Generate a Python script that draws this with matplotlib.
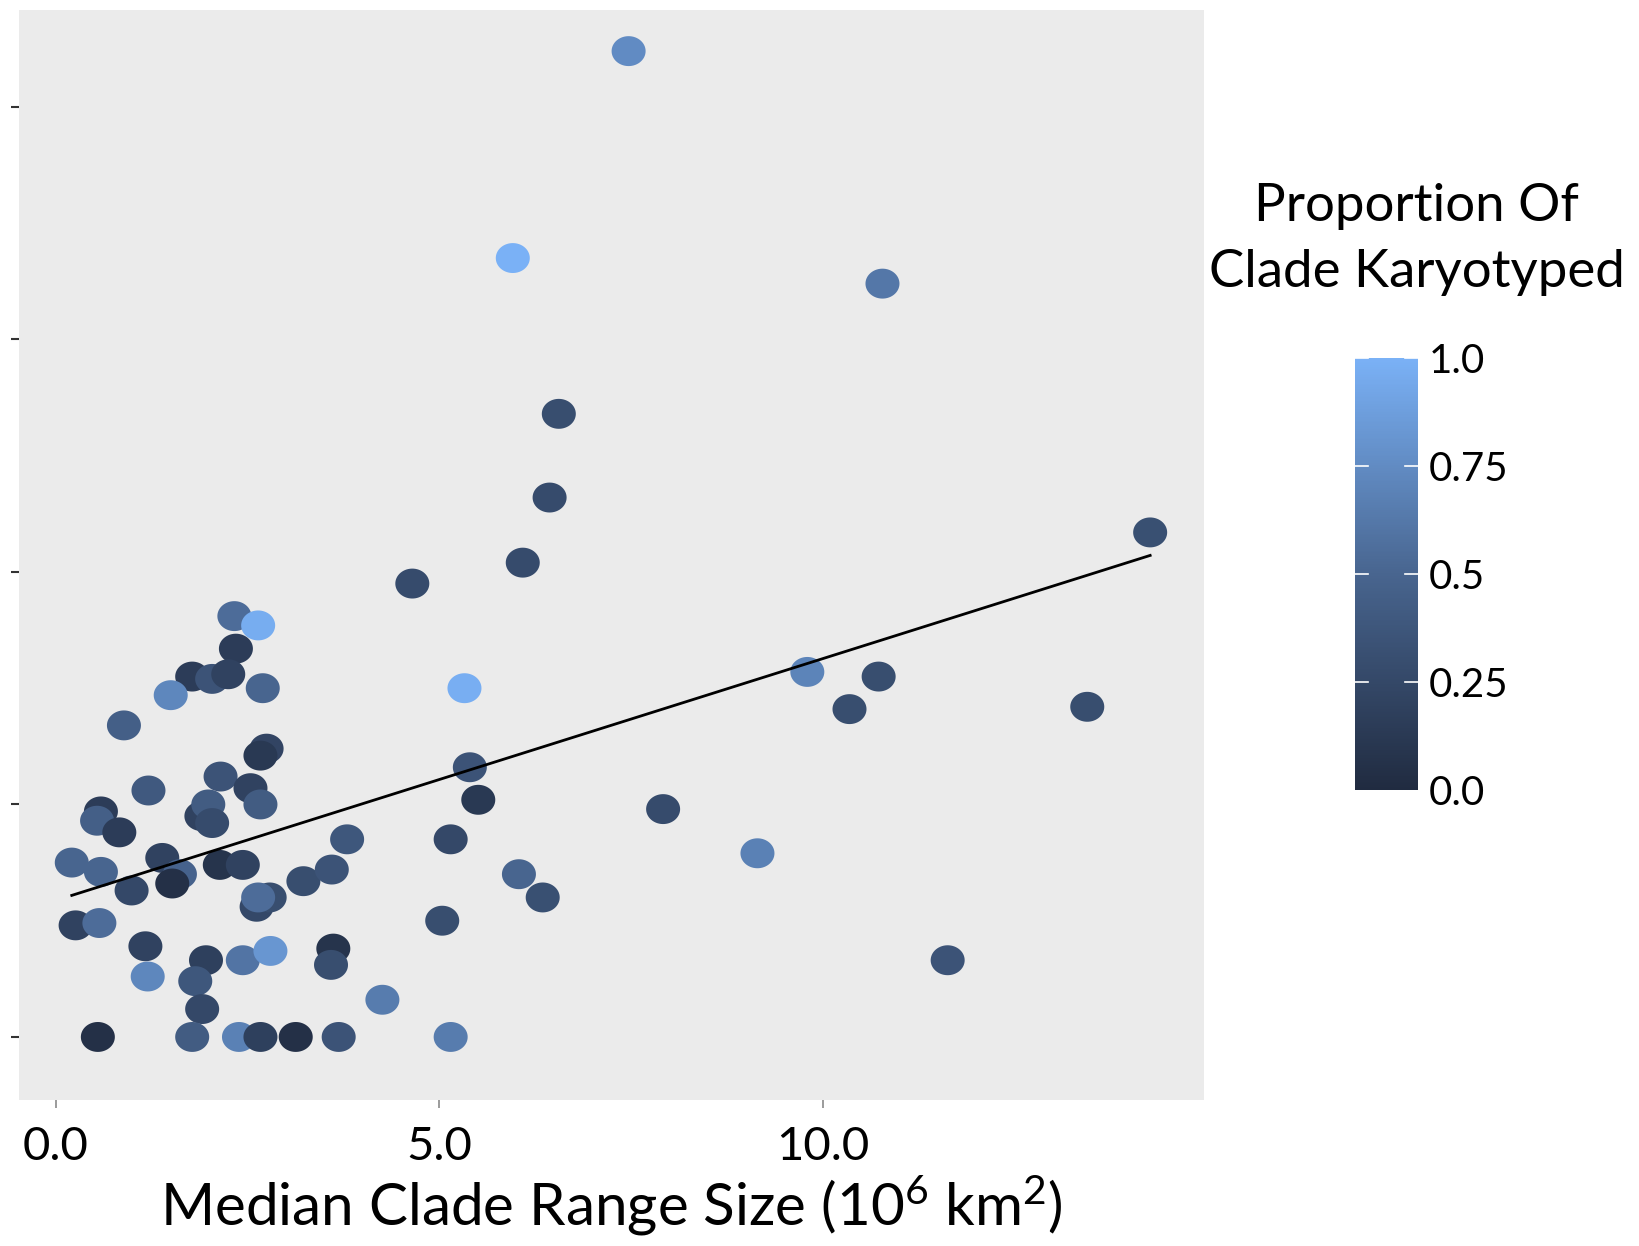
import numpy as np
import matplotlib
matplotlib.use("Agg")
from matplotlib import pyplot as plt
from matplotlib.colors import LinearSegmentedColormap, Normalize
from matplotlib.path import Path

plt.rcParams['font.family'] = ['Lato', 'DejaVu Sans']
plt.rcParams['mathtext.fontset'] = 'custom'
plt.rcParams['mathtext.rm'] = 'Lato'
plt.rcParams['mathtext.it'] = 'Lato'

# median clade range size (10^6 km^2)
range_size = [7.47, 5.96, 10.78, 6.56, 6.44, 6.09, 4.65, 14.27, 2.33, 2.64,
              2.35, 1.78, 2.04, 2.25, 1.50, 2.70, 5.33, 0.89, 9.80, 10.73,
              10.35, 13.45, 2.75, 2.67, 1.21, 2.15, 2.54, 2.67, 5.40, 5.51,
              7.92, 0.59, 0.54, 0.83, 1.90, 1.99, 2.04, 3.80, 5.15, 9.15,
              0.21, 0.59, 1.39, 1.62, 1.52, 0.99, 2.14, 2.44, 3.23, 3.60,
              6.04, 6.35, 2.62, 2.79, 2.64, 0.26, 0.57, 5.04, 11.63, 1.17,
              1.96, 2.44, 2.80, 3.62, 3.59, 1.20, 1.82, 1.91, 4.26, 0.55,
              1.78, 2.39, 2.67, 3.13, 3.69, 5.15]

# response on the y axis (no tick labels printed)
response = [4.24, 3.35, 3.24, 2.68, 2.32, 2.04, 1.95, 2.17, 1.81, 1.77,
            1.67, 1.55, 1.54, 1.56, 1.47, 1.50, 1.50, 1.34, 1.57, 1.55,
            1.41, 1.42, 1.24, 1.21, 1.06, 1.12, 1.07, 1.00, 1.16, 1.02,
            0.98, 0.97, 0.93, 0.88, 0.95, 1.00, 0.92, 0.85, 0.85, 0.79,
            0.75, 0.71, 0.77, 0.70, 0.66, 0.63, 0.74, 0.74, 0.67, 0.72,
            0.70, 0.60, 0.56, 0.60, 0.60, 0.48, 0.49, 0.50, 0.33, 0.39,
            0.33, 0.33, 0.37, 0.38, 0.31, 0.26, 0.24, 0.12, 0.16, 0.00,
            0.00, 0.00, 0.00, 0.00, 0.00, 0.00]

# proportion of clade karyotyped
prop_karyotyped = [0.75, 1.00, 0.62, 0.30, 0.28, 0.28, 0.28, 0.32, 0.55, 0.97,
                   0.15, 0.15, 0.35, 0.20, 0.72, 0.50, 0.98, 0.45, 0.70, 0.30,
                   0.30, 0.30, 0.22, 0.12, 0.40, 0.35, 0.20, 0.42, 0.35, 0.12,
                   0.28, 0.15, 0.45, 0.15, 0.20, 0.42, 0.28, 0.38, 0.25, 0.68,
                   0.50, 0.50, 0.20, 0.48, 0.05, 0.25, 0.08, 0.20, 0.30, 0.35,
                   0.50, 0.32, 0.25, 0.30, 0.55, 0.20, 0.55, 0.30, 0.35, 0.20,
                   0.18, 0.60, 0.82, 0.08, 0.30, 0.72, 0.38, 0.25, 0.65, 0.05,
                   0.42, 0.68, 0.18, 0.05, 0.35, 0.65]

# linear fit
fit_intercept = 0.587
fit_slope = 0.104

x_ticks = [0.0, 5.0, 10.0]
x_ticklabels = ['0.0', '5.0', '10.0']
y_ticks = [0, 1, 2, 3, 4]
cbar_ticks = [0.0, 0.25, 0.5, 0.75, 1.0]
cbar_ticklabels = ['0.0', '0.25', '0.5', '0.75', '1.0']

cmap = LinearSegmentedColormap.from_list('karyo', ['#202b40', '#48658f', '#7ab1f6'])
norm = Normalize(vmin=0, vmax=1)

# slightly wide ellipse marker
t = np.linspace(0, 2 * np.pi, 60)
ellipse = Path(np.column_stack([np.cos(t), 0.88 * np.sin(t)]), closed=True)

fig = plt.figure(figsize=(16.39, 12.46), dpi=100)
ax = fig.add_axes([0.0115, 0.1172, 0.723, 0.8748])
ax.set_facecolor('#ebebeb')

ax.scatter(range_size, response, c=prop_karyotyped, cmap=cmap, norm=norm,
           s=600, marker=ellipse, linewidths=0, zorder=3)

xs = np.array([min(range_size), max(range_size)])
ax.plot(xs, fit_intercept + fit_slope * xs, color='black', lw=2.0, zorder=4)

ax.set_xlim(-0.48, 14.97)
ax.set_ylim(-0.271, 4.417)
ax.set_xticks(x_ticks)
ax.set_xticklabels(x_ticklabels, fontsize=34)
ax.set_yticks(y_ticks)
ax.set_yticklabels([])
ax.tick_params(axis='x', length=6, width=1.2, color='#8a8a8a', pad=13)
ax.tick_params(axis='y', length=6, width=1.5, color='#333333')
for s in ax.spines.values():
    s.set_visible(False)

ax.set_xlabel(r'Median Clade Range Size (10$^{6}$ km$^{2}$)', fontsize=42, labelpad=4)

# colourbar
cax = fig.add_axes([0.827, 0.366, 0.038, 0.355])
cb = fig.colorbar(plt.cm.ScalarMappable(norm=norm, cmap=cmap), cax=cax)
cb.outline.set_visible(False)
cax.set_ylim(0, 1.025)
cb.set_ticks(cbar_ticks)
cb.set_ticklabels(cbar_ticklabels)
cax.tick_params(length=0, labelsize=29, pad=8)
for v in cbar_ticks[1:]:
    cax.plot([0, 0.2], [v, v], color='white', lw=1.2)
    cax.plot([0.8, 1], [v, v], color='white', lw=1.2)
cax.set_xlim(0, 1)

fig.text(0.8645, 0.808, 'Proportion Of\nClade Karyotyped', ha='center', va='center',
         fontsize=38, linespacing=1.5)

fig.savefig('out.png', dpi=100)
